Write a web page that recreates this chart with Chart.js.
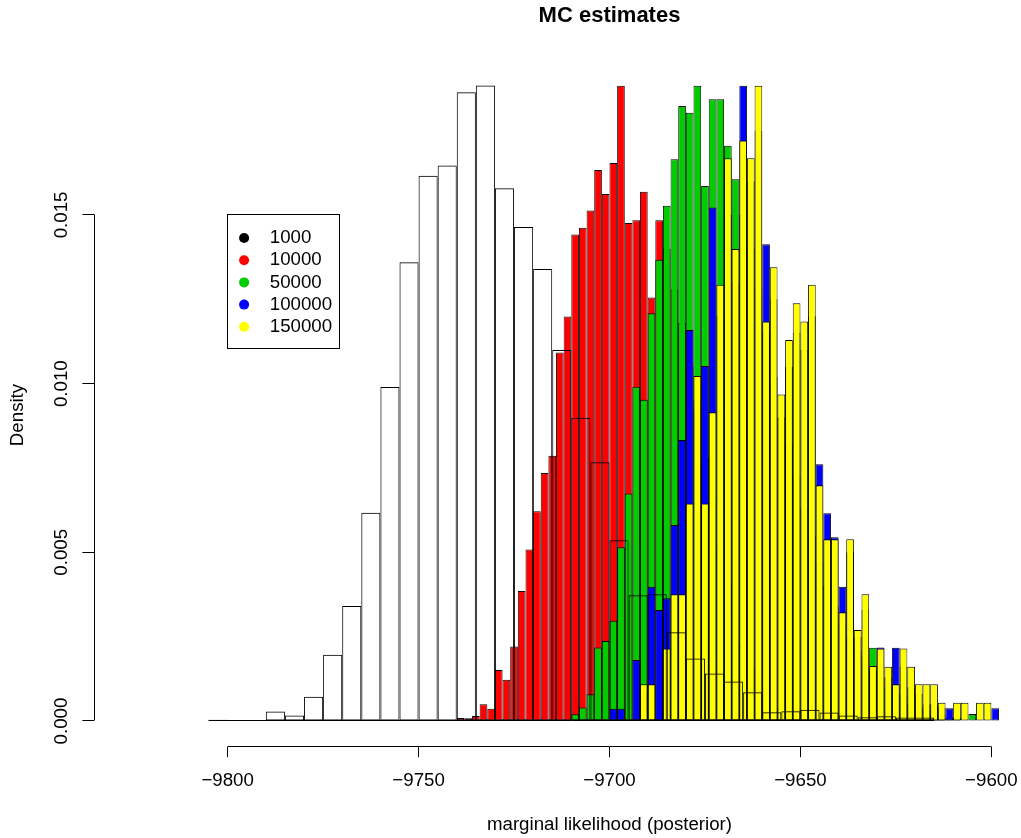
<!DOCTYPE html>
<html>
<head>
<meta charset="utf-8">
<title>MC estimates</title>
<script src="https://cdn.jsdelivr.net/npm/chart.js@4.4.1/dist/chart.umd.min.js"></script>
<style>
  html, body { margin: 0; padding: 0; background: #fff; }
  /* the original figure is cropped on the right, so the canvas is wider than the window */
  #wrap { width: 1021px; height: 838px; overflow: hidden; }
</style>
</head>
<body>
<div id="wrap"><canvas id="mcChart" width="1125" height="838"></canvas></div>
<script>
// histogram bins: 5 wide for the 1000 run, 2 wide for the other runs
const coarseStart = -9805;
const coarseWidth = 5;
const fineStart = -9740;
const fineWidth = 2;

// densities (bars cut by the top of the plot kept at the visible height)
const dens1000 = [
  0.00004, 0, 0, 0.00028, 0.00016, 0.00072, 0.00196, 0.00341, 0.00617, 0.00990,
  0.01360, 0.01616, 0.01647, 0.01864, 0.01884, 0.01579, 0.01464, 0.01340, 0.01100, 0.00899,
  0.00767, 0.00536, 0.00373, 0.00376, 0.00263, 0.00185, 0.00141, 0.00117, 0.00085, 0.00026,
  0.00029, 0.00033, 0.00025, 0.00016, 0.00011, 0.00014, 0.00010, 0.00010
];
const dens10000 = [
  0.00009, 0.00008, 0.00015, 0.00050, 0.00036, 0.00151, 0.00122, 0.00221, 0.00385, 0.00508,
  0.00622, 0.00735, 0.00786, 0.01092, 0.01199, 0.01442, 0.01462, 0.01513, 0.01633, 0.01562,
  0.01654, 0.01883, 0.01476, 0.01484, 0.01569, 0.01255, 0.01484, 0.01400, 0.01280, 0.01180,
  0.01050, 0.00920, 0.00780, 0.00650, 0.00520, 0.00410, 0.00310, 0.00230, 0.00160, 0.00110,
  0.00070, 0.00040, 0.00020, 0.00010, 0, 0, 0, 0, 0, 0,
  0, 0, 0, 0, 0, 0, 0, 0, 0, 0,
  0, 0, 0, 0, 0, 0, 0, 0, 0, 0,
  0
];
const dens50000 = [
  0, 0, 0, 0, 0, 0, 0, 0, 0, 0,
  0, 0, 0, 0, 0, 0.00020, 0.00040, 0.00079, 0.00218, 0.00237,
  0.00297, 0.00515, 0.00674, 0.00991, 0.00952, 0.01209, 0.01367, 0.01527, 0.01665, 0.01823,
  0.01803, 0.01883, 0.01586, 0.01843, 0.01843, 0.01705, 0.01606, 0.01500, 0.01400, 0.01280,
  0.01150, 0.01020, 0.00900, 0.00820, 0.00720, 0.00630, 0.00550, 0.00470, 0.00400, 0.00340,
  0.00290, 0.00250, 0.00210, 0.00190, 0.00217, 0.00130, 0.00100, 0.00080, 0.00070, 0.00050,
  0.00040, 0.00030, 0.00020, 0.00020, 0.00010, 0.00010, 0, 0.00021, 0, 0,
  0
];
const dens100000 = [
  0, 0, 0, 0, 0, 0, 0, 0, 0, 0,
  0, 0, 0, 0, 0, 0, 0, 0, 0, 0,
  0.00036, 0.00036, 0, 0.00181, 0.00090, 0.00398, 0.00329, 0.00364, 0.00581, 0.00833,
  0.01159, 0.00950, 0.01052, 0.01522, 0.01200, 0.01500, 0.01300, 0.01883, 0.01600, 0.01750,
  0.01413, 0.01250, 0.00900, 0.01050, 0.01150, 0.01100, 0.01200, 0.00761, 0.00616, 0.00545,
  0.00398, 0.00500, 0.00250, 0.00330, 0.00150, 0.00218, 0.00130, 0.00217, 0.00160, 0.00100,
  0.00080, 0.00050, 0.00050, 0.00040, 0.00038, 0, 0, 0, 0, 0,
  0.00038
];
const dens150000 = [
  0, 0, 0, 0, 0, 0, 0, 0, 0, 0,
  0, 0, 0, 0, 0, 0, 0, 0, 0, 0,
  0, 0, 0, 0, 0.00109, 0.00109, 0, 0.00215, 0.00376, 0.00376,
  0.00645, 0.01023, 0.00645, 0.00915, 0.01293, 0.01668, 0.01399, 0.01721, 0.01668, 0.01883,
  0.01184, 0.01345, 0.00968, 0.01129, 0.01238, 0.01184, 0.01293, 0.00699, 0.00539, 0.00539,
  0.00322, 0.00539, 0.00270, 0.00376, 0.00163, 0.00215, 0.00161, 0.00109, 0.00215, 0.00161,
  0.00109, 0.00109, 0.00109, 0.00054, 0, 0.00054, 0.00054, 0, 0.00054, 0.00054,
  0
];

const seriesNames = ['1000', '10000', '50000', '100000', '150000'];
const seriesColors = ['#000000', '#FF0000', '#00CD00', '#0000FF', '#FFFF00'];

const xTicks = [-9800, -9750, -9700, -9650, -9600];
const xTickLabels = ['\u22129800', '\u22129750', '\u22129700', '\u22129650', '\u22129600'];
const yTicks = [0, 0.005, 0.010, 0.015];
const yTickLabels = ['0.000', '0.005', '0.010', '0.015'];

const legendAnchor = [-9800, 0.015];

const FONT = '"Liberation Sans", Arial, Helvetica, sans-serif';
Chart.defaults.font.family = FONT;
Chart.defaults.font.size = 18.7;
Chart.defaults.color = '#000';

// bin midpoints for each histogram
function toPoints(values, start, width) {
  return values.map((v, i) => ({ x: start + width * i + width / 2, y: v }));
}

const barBorder = { top: 1, bottom: 1, left: 0.9, right: 0.9 };

function histDataset(label, values, start, width, fill, axis, order) {
  return {
    label: label,
    data: toPoints(values, start, width),
    xAxisID: axis,
    backgroundColor: fill,
    borderColor: '#000',
    borderWidth: barBorder,
    borderSkipped: false,
    inflateAmount: 0,
    grouped: false,
    barPercentage: 1,
    categoryPercentage: 1,
    order: order
  };
}

// R-style axis lines (only between first and last tick), legend and baseline
const rStyle = {
  id: 'rStyle',
  afterDatasetsDraw(chart) {
    const { ctx, scales: { x, y } } = chart;
    const crisp = p => Math.round(p - 0.5) + 0.5;
    ctx.save();
    ctx.strokeStyle = '#000';
    ctx.lineWidth = 1;
    const y0 = crisp(y.getPixelForValue(0));
    ctx.beginPath();
    ctx.moveTo(x.getPixelForValue(coarseStart), y0);
    ctx.lineTo(x.getPixelForValue(coarseStart + coarseWidth * dens1000.length), y0);
    ctx.stroke();
    ctx.restore();
  },
  afterDraw(chart) {
    const { ctx, chartArea, scales: { x, y } } = chart;
    const crisp = p => Math.round(p - 0.5) + 0.5;
    ctx.save();
    ctx.strokeStyle = '#000';
    ctx.lineWidth = 1;

    const ax = crisp(chartArea.bottom);
    ctx.beginPath();
    ctx.moveTo(crisp(x.getPixelForValue(xTicks[0])), ax);
    ctx.lineTo(crisp(x.getPixelForValue(xTicks[xTicks.length - 1])), ax);
    ctx.stroke();

    const ay = crisp(chartArea.left);
    ctx.beginPath();
    ctx.moveTo(ay, crisp(y.getPixelForValue(yTicks[0])));
    ctx.lineTo(ay, crisp(y.getPixelForValue(yTicks[yTicks.length - 1])));
    ctx.stroke();

    // legend box, top-left corner at (-9800, 0.015)
    const lx = crisp(x.getPixelForValue(legendAnchor[0]));
    const ly = crisp(y.getPixelForValue(legendAnchor[1]));
    ctx.font = '18.7px ' + FONT;
    const textW = Math.max(...seriesNames.map(s => ctx.measureText(s).width));
    const rowH = 22.2;
    const w = Math.round(42.3 + textW + 7.6);
    const h = Math.round(rowH * (seriesNames.length - 1) + 45.4);
    ctx.fillStyle = '#fff';
    ctx.fillRect(lx, ly, w, h);
    ctx.strokeRect(lx, ly, w, h);
    ctx.textAlign = 'left';
    ctx.textBaseline = 'middle';
    seriesNames.forEach((name, i) => {
      const cy = ly + 23.5 + i * rowH;
      ctx.beginPath();
      ctx.arc(lx + 16.6, cy, 5, 0, Math.PI * 2);
      ctx.fillStyle = seriesColors[i];
      ctx.fill();
      ctx.fillStyle = '#000';
      ctx.fillText(name, lx + 42.3, cy);
    });
    ctx.restore();
  }
};

const config = {
  type: 'bar',
  data: {
    datasets: [
      // 1000 is drawn last, as outlines only
      histDataset(seriesNames[0], dens1000, coarseStart, coarseWidth, 'rgba(255,255,255,0)', 'xw', 0),
      histDataset(seriesNames[4], dens150000, fineStart, fineWidth, seriesColors[4], 'x', 1),
      histDataset(seriesNames[3], dens100000, fineStart, fineWidth, seriesColors[3], 'x', 2),
      histDataset(seriesNames[2], dens50000, fineStart, fineWidth, seriesColors[2], 'x', 3),
      histDataset(seriesNames[1], dens10000, fineStart, fineWidth, seriesColors[1], 'x', 4)
    ]
  },
  options: {
    responsive: false,
    animation: false,
    devicePixelRatio: 1,
    layout: { padding: 0 },
    scales: {
      x: {
        type: 'linear',
        position: 'bottom',
        min: -9835,
        max: -9565,
        offset: false,
        afterBuildTicks: s => { s.ticks = xTicks.map(v => ({ value: v })); },
        afterFit: s => { s.height = 91.4; },
        grid: { display: true, drawOnChartArea: false, drawTicks: true, tickLength: 10.6, color: '#000', lineWidth: 1, offset: false },
        border: { display: false },
        ticks: {
          autoSkip: false, maxRotation: 0, minRotation: 0, padding: 12.6,
          color: '#000', font: { size: 18.7 },
          callback: (v, i) => xTickLabels[i]
        },
        title: {
          display: true, text: 'marginal likelihood (posterior)', color: '#000',
          font: { size: 18.7 }, padding: { top: 0, bottom: 1.8 }
        }
      },
      xw: {
        type: 'linear',
        axis: 'x',
        position: 'bottom',
        display: false,
        min: -9835,
        max: -9565,
        offset: false
      },
      y: {
        type: 'linear',
        position: 'left',
        min: -0.000759,
        max: 0.0189,
        afterBuildTicks: s => { s.ticks = yTicks.map(v => ({ value: v })); },
        afterFit: s => { s.width = 94; },
        grid: { display: true, drawOnChartArea: false, drawTicks: true, tickLength: 11.6, color: '#000', lineWidth: 1 },
        border: { display: false },
        ticks: {
          autoSkip: false, minRotation: 90, maxRotation: 90, crossAlign: 'center', padding: -2.7,
          color: '#000', font: { size: 18.7 },
          callback: (v, i) => yTickLabels[i]
        },
        title: {
          display: true, text: 'Density', color: '#000',
          font: { size: 18.7 }, padding: { top: 6.3, bottom: 0 }
        }
      }
    },
    plugins: {
      legend: { display: false },
      tooltip: { enabled: false },
      title: {
        display: true,
        text: 'MC estimates',
        fullSize: false,
        color: '#000',
        font: { size: 22, weight: 'bold' },
        padding: { top: 3, bottom: 54 }
      }
    }
  },
  plugins: [rStyle]
};

new Chart(document.getElementById('mcChart').getContext('2d'), config);
</script>
</body>
</html>
